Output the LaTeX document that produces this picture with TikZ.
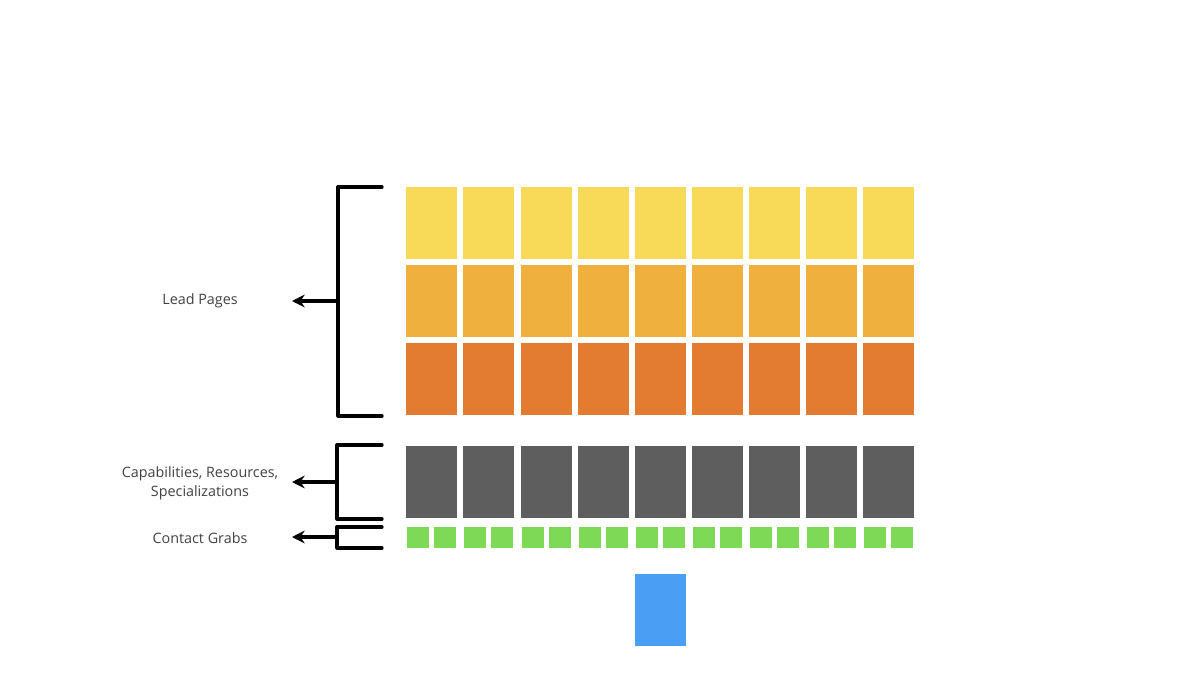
\documentclass[tikz,border=0pt]{standalone}
\usepackage{fontspec}
\setmainfont{Open Sans}
\usetikzlibrary{arrows.meta}
\definecolor{cyellow}{RGB}{248,218,88}
\definecolor{clorange}{RGB}{240,176,61}
\definecolor{corange}{RGB}{227,123,48}
\definecolor{cgray}{RGB}{94,94,94}
\definecolor{cgreen}{RGB}{126,217,87}
\definecolor{cblue}{RGB}{74,159,245}
\definecolor{ctext}{RGB}{65,65,65}

\begin{document}
\begin{tikzpicture}[x=0.025cm, y=-0.025cm,
    cell/.style={rectangle, inner sep=0, anchor=north west, minimum width=1.275cm, minimum height=1.8cm},
    grab/.style={rectangle, inner sep=0, anchor=north west, fill=cgreen, minimum width=0.55cm, minimum height=0.53cm},
    label/.style={text=ctext, font=\fontsize{10.2}{13.5}\selectfont, align=center},
    bracket/.style={line width=2.3pt, line cap=round, line join=round},
    pointer/.style={line width=2.3pt, -{Stealth[length=9pt, width=9pt]}}]
    \useasboundingbox (0,0) rectangle (1200,675);

    % lead pages
    \foreach \i in {0,...,8} {
      \node[cell, fill=cyellow] (Top\i) at ({406+57.125*\i},187) {};
      \node[cell, fill=clorange] (Mid\i) at ({406+57.125*\i},265) {};
      \node[cell, fill=corange] (Low\i) at ({406+57.125*\i},343) {};
      \node[cell, fill=cgray] (Cap\i) at ({406+57.125*\i},446) {};
      \node[grab] (GrabA\i) at ({407+57.125*\i},527) {};
      \node[grab] (GrabB\i) at ({434+57.125*\i},527) {};
    }
    \node[cell, fill=cblue] (Form) at (635,574) {};

    \node[label] (Lead) at (200,301) {Lead Pages};
    \node[label] (Caps) at (200,483) {Capabilities, Resources,\\Specializations};
    \node[label] (Contact) at (200,538) {Contact Grabs};

    \coordinate (LeadTop) at (382,187);
    \coordinate (LeadBot) at (382,416);
    \coordinate (LeadMid) at (338,301);
    \coordinate (LeadTip) at (292,301);
    \coordinate (CapsTop) at (382,445);
    \coordinate (CapsBot) at (382,519);
    \coordinate (CapsMid) at (337,482);
    \coordinate (CapsTip) at (292,482);
    \coordinate (GrabTop) at (382,527);
    \coordinate (GrabBot) at (382,548);
    \coordinate (GrabMid) at (337,537);
    \coordinate (GrabTip) at (292,537);

    \draw[bracket] (LeadTop) -| (LeadMid) |- (LeadBot);
    \draw[bracket] (CapsTop) -| (CapsMid) |- (CapsBot);
    \draw[bracket] (GrabTop) -| (GrabMid) |- (GrabBot);
    \draw[pointer] (LeadMid) -- (LeadTip);
    \draw[pointer] (CapsMid) -- (CapsTip);
    \draw[pointer] (GrabMid) -- (GrabTip);
  \end{tikzpicture}
\end{document}
